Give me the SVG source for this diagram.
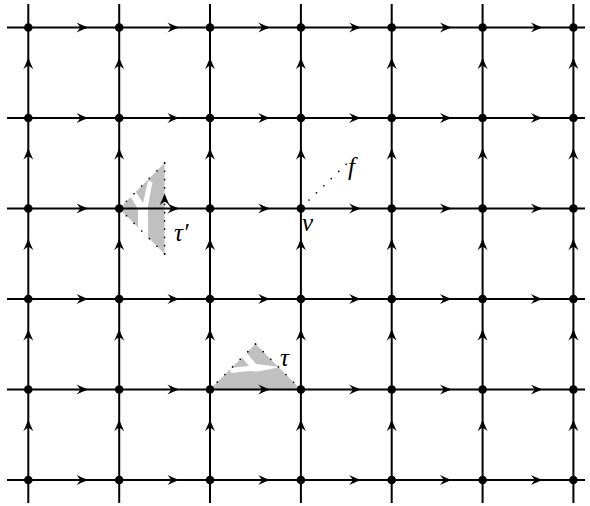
<svg xmlns="http://www.w3.org/2000/svg" width="590" height="506" viewBox="0 0 590 506">
<style>
.grid{stroke:#000;stroke-width:2;fill:none;marker-mid:url(#ah)}
.node{fill:#000}
.shade{fill:#c0c0c0}
.hole{fill:#fff}
.dots{stroke:#000;stroke-width:1.7;stroke-linecap:round;fill:none}
.lbl{font-family:"Liberation Serif","DejaVu Serif",serif;font-style:italic;font-size:25px;fill:#000}
</style>
<defs>
<path id="head" d="M0,0 Q-5.5,-2 -11.8,-5 Q-8.3,-1.2 -8.3,0 Q-8.3,1.2 -11.8,5 Q-5.5,2 0,0Z" fill="#000"/>
<marker id="ah" markerUnits="userSpaceOnUse" viewBox="-13 -6 14 12" markerWidth="14" markerHeight="12" refX="0" refY="0" orient="auto" overflow="visible">
<use href="#head"/>
</marker>
<clipPath id="clipTau"><polygon points="210,389.5 255.5,344 300.9,389.5"/></clipPath>
<clipPath id="clipTauP"><polygon points="119.2,208.5 164.6,163.1 164.6,253.9"/></clipPath>
</defs>

<g id="tau-prime">
<polygon class="shade" points="119.2,208.5 164.6,163.1 164.6,253.9"/>
<polygon class="hole" clip-path="url(#clipTauP)" points="129,194 134,189 143,203 148,181 152.5,182 148,206 148,250 138,250 138,209"/>
<path class="dots" stroke-dasharray="0 10.8" d="M164.6,163.1 L119.2,208.5"/>
<path class="dots" stroke-dasharray="0 10.8" d="M164.6,253.9 L119.2,208.5"/>
<path class="dots" stroke-dasharray="0 8.25" d="M164.6,163.1 L164.6,254"/>
</g>

<g id="tau">
<polygon class="shade" points="210,389.5 255.5,344 300.9,389.5"/>
<polygon class="hole" clip-path="url(#clipTau)" points="240,355 246,352 256,364 281,367 258,371.5 250,371 231,373 229,368 249,366"/>
<path class="dots" stroke-dasharray="0 10.8" d="M255.5,344 L210,389.5"/>
<path class="dots" stroke-dasharray="0 10.8" d="M255.5,344 L300.9,389.5"/>
</g>

<g id="v-f">
<path class="dots" stroke-dasharray="0 10.3" d="M309,200 L347,163.5"/>
</g>

<g id="connectors">
<path class="grid" d="M7,27.5 H88.3 H179.2 H270 H360.9 H451.7 H542.6 H585"/>
<path class="grid" d="M7,118 H88.3 H179.2 H270 H360.9 H451.7 H542.6 H585"/>
<path class="grid" d="M7,208.5 H88.3 H179.2 H270 H360.9 H451.7 H542.6 H585"/>
<path class="grid" d="M7,299 H88.3 H179.2 H270 H360.9 H451.7 H542.6 H585"/>
<path class="grid" d="M7,389.5 H88.3 H179.2 H270 H360.9 H451.7 H542.6 H585"/>
<path class="grid" d="M7,480 H88.3 H179.2 H270 H360.9 H451.7 H542.6 H585"/>
<path class="grid" d="M28.3,503 V419.5 V329 V238.5 V148 V57.5 V4"/>
<path class="grid" d="M119.2,503 V419.5 V329 V238.5 V148 V57.5 V4"/>
<path class="grid" d="M210,503 V419.5 V329 V238.5 V148 V57.5 V4"/>
<path class="grid" d="M300.9,503 V419.5 V329 V238.5 V148 V57.5 V4"/>
<path class="grid" d="M391.7,503 V419.5 V329 V238.5 V148 V57.5 V4"/>
<path class="grid" d="M482.6,503 V419.5 V329 V238.5 V148 V57.5 V4"/>
<path class="grid" d="M573.4,503 V419.5 V329 V238.5 V148 V57.5 V4"/>
<use href="#head" transform="translate(164.6,193.5) rotate(-90)"/>
</g>

<g id="n-0-0"><circle class="node" cx="28.3" cy="27.5" r="4.3"/></g>
<g id="n-1-0"><circle class="node" cx="119.2" cy="27.5" r="4.3"/></g>
<g id="n-2-0"><circle class="node" cx="210" cy="27.5" r="4.3"/></g>
<g id="n-3-0"><circle class="node" cx="300.9" cy="27.5" r="4.3"/></g>
<g id="n-4-0"><circle class="node" cx="391.7" cy="27.5" r="4.3"/></g>
<g id="n-5-0"><circle class="node" cx="482.6" cy="27.5" r="4.3"/></g>
<g id="n-6-0"><circle class="node" cx="573.4" cy="27.5" r="4.3"/></g>
<g id="n-0-1"><circle class="node" cx="28.3" cy="118" r="4.3"/></g>
<g id="n-1-1"><circle class="node" cx="119.2" cy="118" r="4.3"/></g>
<g id="n-2-1"><circle class="node" cx="210" cy="118" r="4.3"/></g>
<g id="n-3-1"><circle class="node" cx="300.9" cy="118" r="4.3"/></g>
<g id="n-4-1"><circle class="node" cx="391.7" cy="118" r="4.3"/></g>
<g id="n-5-1"><circle class="node" cx="482.6" cy="118" r="4.3"/></g>
<g id="n-6-1"><circle class="node" cx="573.4" cy="118" r="4.3"/></g>
<g id="n-0-2"><circle class="node" cx="28.3" cy="208.5" r="4.3"/></g>
<g id="n-1-2"><circle class="node" cx="119.2" cy="208.5" r="4.3"/></g>
<g id="n-2-2"><circle class="node" cx="210" cy="208.5" r="4.3"/></g>
<g id="n-3-2"><circle class="node" cx="300.9" cy="208.5" r="4.3"/></g>
<g id="n-4-2"><circle class="node" cx="391.7" cy="208.5" r="4.3"/></g>
<g id="n-5-2"><circle class="node" cx="482.6" cy="208.5" r="4.3"/></g>
<g id="n-6-2"><circle class="node" cx="573.4" cy="208.5" r="4.3"/></g>
<g id="n-0-3"><circle class="node" cx="28.3" cy="299" r="4.3"/></g>
<g id="n-1-3"><circle class="node" cx="119.2" cy="299" r="4.3"/></g>
<g id="n-2-3"><circle class="node" cx="210" cy="299" r="4.3"/></g>
<g id="n-3-3"><circle class="node" cx="300.9" cy="299" r="4.3"/></g>
<g id="n-4-3"><circle class="node" cx="391.7" cy="299" r="4.3"/></g>
<g id="n-5-3"><circle class="node" cx="482.6" cy="299" r="4.3"/></g>
<g id="n-6-3"><circle class="node" cx="573.4" cy="299" r="4.3"/></g>
<g id="n-0-4"><circle class="node" cx="28.3" cy="389.5" r="4.3"/></g>
<g id="n-1-4"><circle class="node" cx="119.2" cy="389.5" r="4.3"/></g>
<g id="n-2-4"><circle class="node" cx="210" cy="389.5" r="4.3"/></g>
<g id="n-3-4"><circle class="node" cx="300.9" cy="389.5" r="4.3"/></g>
<g id="n-4-4"><circle class="node" cx="391.7" cy="389.5" r="4.3"/></g>
<g id="n-5-4"><circle class="node" cx="482.6" cy="389.5" r="4.3"/></g>
<g id="n-6-4"><circle class="node" cx="573.4" cy="389.5" r="4.3"/></g>
<g id="n-0-5"><circle class="node" cx="28.3" cy="480" r="4.3"/></g>
<g id="n-1-5"><circle class="node" cx="119.2" cy="480" r="4.3"/></g>
<g id="n-2-5"><circle class="node" cx="210" cy="480" r="4.3"/></g>
<g id="n-3-5"><circle class="node" cx="300.9" cy="480" r="4.3"/></g>
<g id="n-4-5"><circle class="node" cx="391.7" cy="480" r="4.3"/></g>
<g id="n-5-5"><circle class="node" cx="482.6" cy="480" r="4.3"/></g>
<g id="n-6-5"><circle class="node" cx="573.4" cy="480" r="4.3"/></g>

<g id="labels">
<text class="lbl" x="174" y="241">τ′</text>
<text class="lbl" x="280" y="366">τ</text>
<text class="lbl" x="302" y="231">v</text>
<text class="lbl" x="348" y="175">f</text>
</g>
</svg>
